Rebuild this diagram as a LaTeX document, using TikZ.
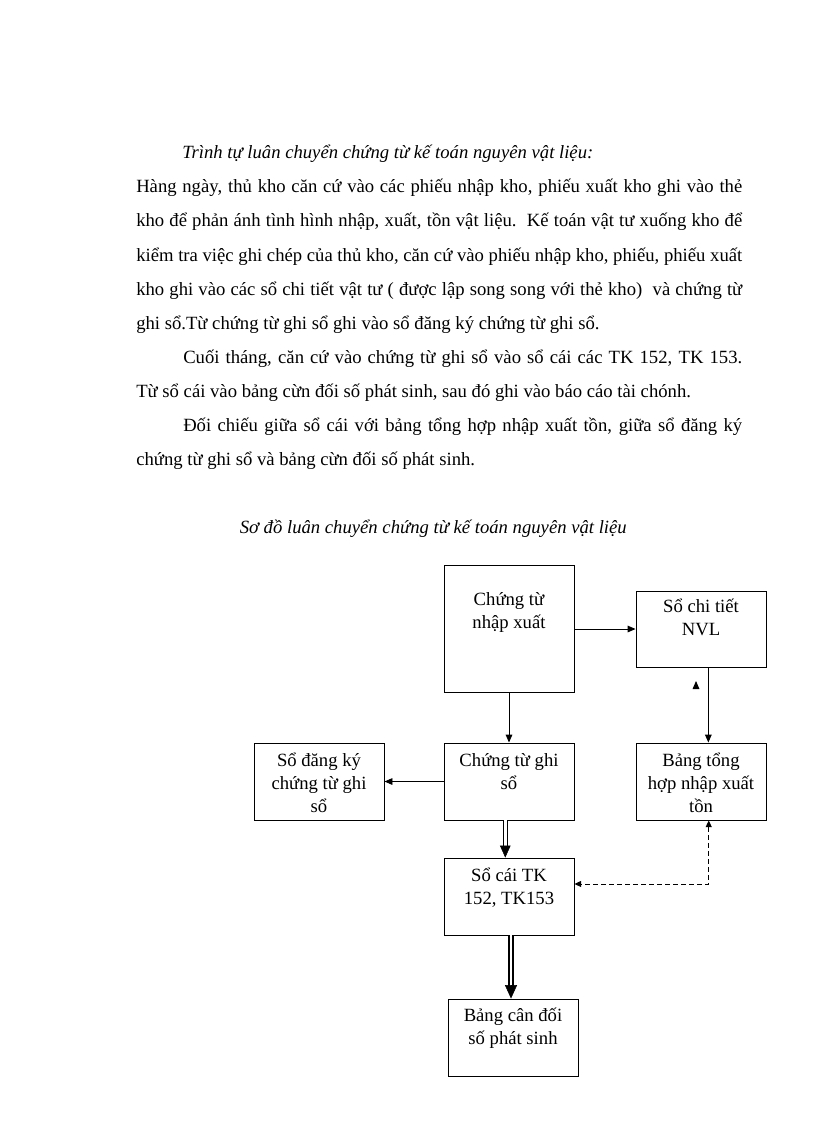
\documentclass[tikz,border=0pt]{standalone}
\usepackage{fontspec}
\setmainfont{Liberation Serif}
\usepackage{tikz}
\usetikzlibrary{positioning,arrows.meta}
\tikzset{
    txt/.style={font=\fontsize{14}{17.25}\selectfont, inner sep=0pt, anchor=base west},
    box/.style={draw, line width=0.7pt, inner sep=0pt, font=\fontsize{14}{17.25}\selectfont},
    arr/.style={-{Triangle[length=6pt, width=5pt]}, line width=0.7pt},
    dbl/.style={double, double distance=2.2pt, line width=0.75pt},
    dblthick/.style={double, double distance=1.3pt, line width=1.5pt},
    dashedarr/.style={{Triangle[length=5pt, width=4.5pt]}-{Triangle[length=5pt, width=4.5pt]}, line width=0.7pt, dash pattern=on 3.5pt off 2.5pt}
}
% box text: height, first baseline, lines
\newcommand{\boxlines}[3]{\parbox[c][#1][t]{97.5pt}{\centering\rule{0pt}{#2}#3}}
\newcommand{\jline}[2]{\makebox[#1][s]{#2}}

\begin{document}
\begin{tikzpicture}[x=0.75pt, y=-0.75pt]
    \useasboundingbox (0,0) rectangle (816,1123);

    % text above the diagram
    \node[txt, font=\fontsize{14}{17.25}\selectfont\itshape] (tieude) at (182,159) {Trình tự luân chuyển chứng từ kế toán nguyên vật liệu:};
    \node[txt] (l1) at (136,193) {\jline{454.5pt}{Hàng ngày, thủ kho căn cứ vào các phiếu nhập kho, phiếu xuất kho ghi vào thẻ}};
    \node[txt] (l2) at (136,227) {\jline{454.5pt}{kho để phản ánh tình hình nhập, xuất, tồn vật liệu.\ \ Kế toán vật tư xuống kho để}};
    \node[txt] (l3) at (136,261) {\jline{454.5pt}{kiểm tra việc ghi chép của thủ kho, căn cứ vào phiếu nhập kho, phiếu, phiếu xuất}};
    \node[txt] (l4) at (136,295) {\jline{454.5pt}{kho ghi vào các sổ chi tiết vật tư ( được lập song song với thẻ kho)\ \ và chứng từ}};
    \node[txt] (l5) at (136,329) {ghi sổ.Từ chứng từ ghi sổ ghi vào sổ đăng ký chứng từ ghi sổ.};
    \node[txt] (l6) at (183,363) {\jline{419.25pt}{Cuối tháng, căn cứ vào chứng từ ghi sổ vào sổ cái các TK 152, TK 153.}};
    \node[txt] (l7) at (136,397) {Từ sổ cái vào bảng cừn đối số phát sinh, sau đó ghi vào báo cáo tài chónh.};
    \node[txt] (l8) at (183,431) {\jline{419.25pt}{Đối chiếu giữa sổ cái với bảng tổng hợp nhập xuất tồn, giữa sổ đăng ký}};
    \node[txt] (l9) at (136,465) {chứng từ ghi sổ và bảng cừn đối số phát sinh.};
    \node[txt, anchor=base east, font=\fontsize{14}{17.25}\selectfont\itshape] (tenso) at (627,533) {Sơ đồ luân chuyển chứng từ kế toán nguyên vật liệu};

    % boxes
    \node[box] (nhapxuat) at (509,628.5) {\boxlines{95.25pt}{30pt}{Chứng từ\\nhập xuất}};
    \node[box] (chitiet) at (701,629) {\boxlines{57pt}{15.75pt}{Sổ chi tiết\\NVL}};
    \node[box] (ghiso) at (509,781.5) {\boxlines{57.75pt}{17.6pt}{Chứng từ ghi\\sổ}};
    \node[box] (dangky) at (319,781.5) {\boxlines{57.75pt}{17.6pt}{Sổ đăng ký\\chứng từ ghi\\sổ}};
    \node[box] (tonghop) at (701,781.5) {\boxlines{57.75pt}{17.6pt}{Bảng tổng\\hợp nhập xuất\\tồn}};
    \node[box] (socai) at (509,896.5) {\boxlines{57.75pt}{17.6pt}{Sổ cái TK\\152, TK153}};
    \node[box] (candoi) at (513,1037.5) {\boxlines{57.75pt}{17pt}{Bảng cân đối\\số phát sinh}};

    \coordinate (stubA) at (696,688);
    \coordinate (stubB) at (696,681);

    % connectors
    \draw[arr] (nhapxuat.east |- chitiet.west) -- (chitiet.west);
    \draw[arr] (nhapxuat.south) -- (ghiso.north);
    \draw[arr] (ghiso.west) -- (dangky.east);
    \draw[arr] ([xshift=5.5pt]chitiet.south) -- ([xshift=5.5pt]tonghop.north);
    \draw[arr] (stubA) -- (stubB);

    \draw[dbl, shorten >=8.5pt] ([xshift=-2.8pt]ghiso.south) -- ([xshift=-2.8pt]ghiso.south |- socai.north);
    \draw[-{Triangle[length=9pt, width=8pt]}, shorten <=19.5pt] ([xshift=-2.8pt]ghiso.south) -- ([xshift=-2.8pt]ghiso.south |- socai.north);

    \draw[dblthick, shorten >=9.5pt] ([xshift=1.5pt]socai.south) -- ([xshift=1.5pt]socai.south |- candoi.north);
    \draw[-{Triangle[length=10pt, width=9pt]}, shorten <=38pt] ([xshift=1.5pt]socai.south) -- ([xshift=1.5pt]socai.south |- candoi.north);

    \draw[dashedarr] ([xshift=5.8pt]tonghop.south) |- ([yshift=9.4pt]socai.east);

\end{tikzpicture}
\end{document}
